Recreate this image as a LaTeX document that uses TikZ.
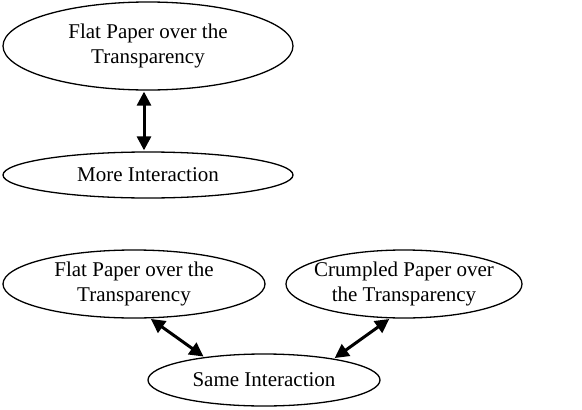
\documentclass[tikz,border=0pt]{standalone}
\usepackage{fontspec}
\setmainfont{Liberation Serif}
\usetikzlibrary{shapes.geometric,arrows.meta}
\begin{document}
\begin{tikzpicture}[x=1pt,y=1pt,
  oval/.style={draw,ellipse,line width=1.3pt,inner sep=-10pt,align=center,
    font=\fontsize{21}{25}\selectfont},
  link/.style={line width=3pt,{Triangle[width=14pt,length=14pt]}-{Triangle[width=14pt,length=14pt]},shorten <=1pt,shorten >=1pt}]
\useasboundingbox (0,0) rectangle (582,-410);
\node[oval,minimum width=290,minimum height=88] (e1) at (148,-46) {Flat Paper over the\\Transparency};
\node[oval,minimum width=290,minimum height=46] (e2) at (148,-175) {More Interaction};
\node[oval,minimum width=262,minimum height=68] (e3) at (134,-284) {Flat Paper over the\\Transparency};
\node[oval,minimum width=236,minimum height=68] (e4) at (404,-284) {Crumpled Paper over\\the Transparency};
\node[oval,minimum width=232,minimum height=52] (e5) at (264,-380) {Same Interaction};
\draw[link] ([xshift=-4pt]e1.south) -- ([xshift=-4pt]e2.north);
\draw[link] (e3.-65) -- (e5.159);
\draw[link] (e4.-112) -- (e5.17);
\end{tikzpicture}
\end{document}
